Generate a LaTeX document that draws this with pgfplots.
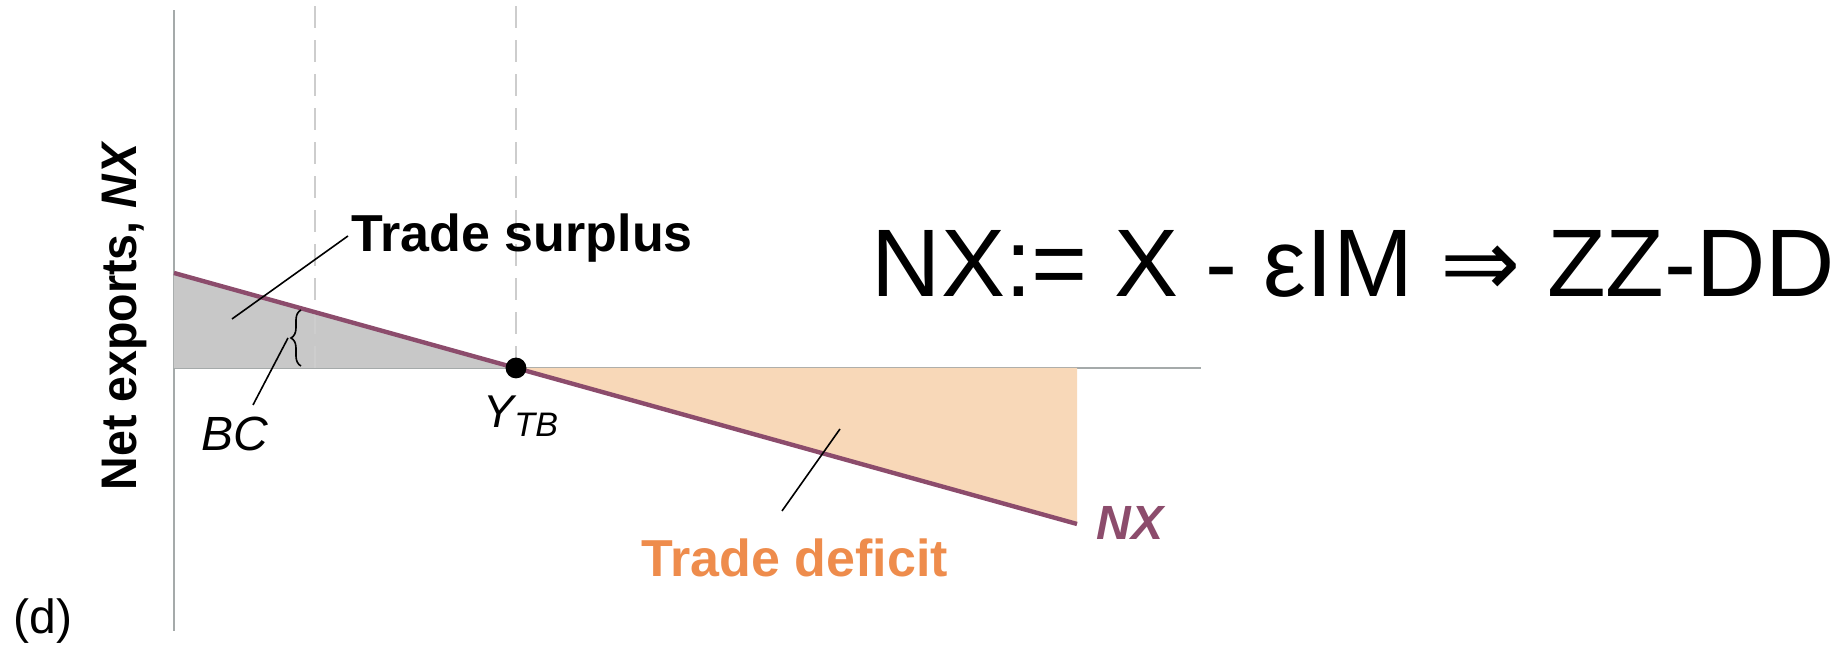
\documentclass[border=0pt]{standalone}
\usepackage{fontspec}
\setmainfont{Liberation Sans}
\newfontfamily\dejavu{DejaVu Sans}
\usepackage{pgfplots}
\pgfplotsset{compat=1.18}
\usetikzlibrary{decorations.pathreplacing}
\definecolor{nxline}{RGB}{140,76,108}
\definecolor{surplusfill}{RGB}{200,200,200}
\definecolor{deficitfill}{RGB}{248,216,184}
\definecolor{deficittext}{RGB}{238,140,76}
\definecolor{axisgray}{RGB}{165,170,170}
\definecolor{dashgray}{RGB}{205,205,205}

\begin{document}
\begin{tikzpicture}
\begin{axis}[
    scale only axis,
    width=256.75pt, height=155.25pt,
    xmin=0, xmax=10.27,
    ymin=-2.63, ymax=3.58,
    axis x line=middle,
    axis y line=left,
    xtick=\empty, ytick=\empty,
    x axis line style={-, draw=axisgray, line width=0.5pt},
    y axis line style={-, draw=axisgray, line width=0.6pt},
    clip=false,
]
% shaded areas
\addplot[fill=surplusfill, draw=none] coordinates {(0,0.95) (3.42,0)} \closedcycle;
\addplot[fill=deficitfill, draw=none] coordinates {(3.42,0) (9.03,-1.56)} \closedcycle;

% dashed guides
\addplot[dashgray, line width=0.6pt, dash pattern=on 5.5pt off 3pt] coordinates {(1.41,0) (1.41,3.68)};
\addplot[dashgray, line width=0.6pt, dash pattern=on 5.5pt off 3pt] coordinates {(3.42,0) (3.42,3.68)};

% NX schedule
\addplot[nxline, line width=1.1pt] coordinates {(0,0.95) (9.03,-1.56)};
\addplot[only marks, mark=*, mark size=2.4pt, black] coordinates {(3.42,0)};

% brace and leaders
\draw[decorate, decoration={brace, amplitude=2.5pt}, line width=0.4pt] (axis cs:1.27,0.02) -- (axis cs:1.27,0.58);
\draw[line width=0.4pt] (axis cs:1.74,1.32) -- (axis cs:0.58,0.49);
\draw[line width=0.4pt] (axis cs:0.79,-0.37) -- (axis cs:1.14,0.30);
\draw[line width=0.4pt] (axis cs:6.08,-1.43) -- (axis cs:6.66,-0.61);

% labels
\node[anchor=base west, inner sep=0pt, font=\bfseries\fontsize{13}{15}\selectfont] at (axis cs:1.77,1.16) {Trade surplus};
\node[anchor=base west, inner sep=0pt, text=deficittext, font=\bfseries\fontsize{13}{15}\selectfont] at (axis cs:4.67,-2.09) {Trade deficit};
\node[anchor=base west, inner sep=0pt, text=nxline, font=\bfseries\itshape\fontsize{12}{14}\selectfont] at (axis cs:9.22,-1.72) {NX};
\node[anchor=base west, inner sep=0pt, font=\itshape\fontsize{12}{14}\selectfont] at (axis cs:0.27,-0.83) {BC};
\node[anchor=base west, inner sep=0pt, font=\itshape\fontsize{11.5}{13}\selectfont] at (axis cs:3.09,-0.60) {Y\raisebox{-2.2pt}{\fontsize{8.5}{9}\selectfont TB}};
\node[rotate=90, anchor=base west, inner sep=0pt, font=\bfseries\fontsize{12.5}{14}\selectfont] at (axis cs:-0.37,-1.23) {\scalebox{0.93}[1]{Net exports, \textit{NX}}};
\node[anchor=center, inner sep=0pt, font=\fontsize{12}{14}\selectfont] at (axis cs:-1.31,-2.53) {(d)};

% annotation
\node[anchor=base west, inner sep=0pt, font=\fontsize{24}{28}\selectfont] at (axis cs:6.97,0.71) {NX:= X - εIM {\dejavu ⇒} ZZ-DD};

\coordinate (bbl) at (axis cs:-1.74,-2.80);
\coordinate (btr) at (axis cs:16.69,3.68);
\end{axis}
\pgfresetboundingbox
\path[use as bounding box] (bbl) rectangle (btr);
\end{tikzpicture}
\end{document}
